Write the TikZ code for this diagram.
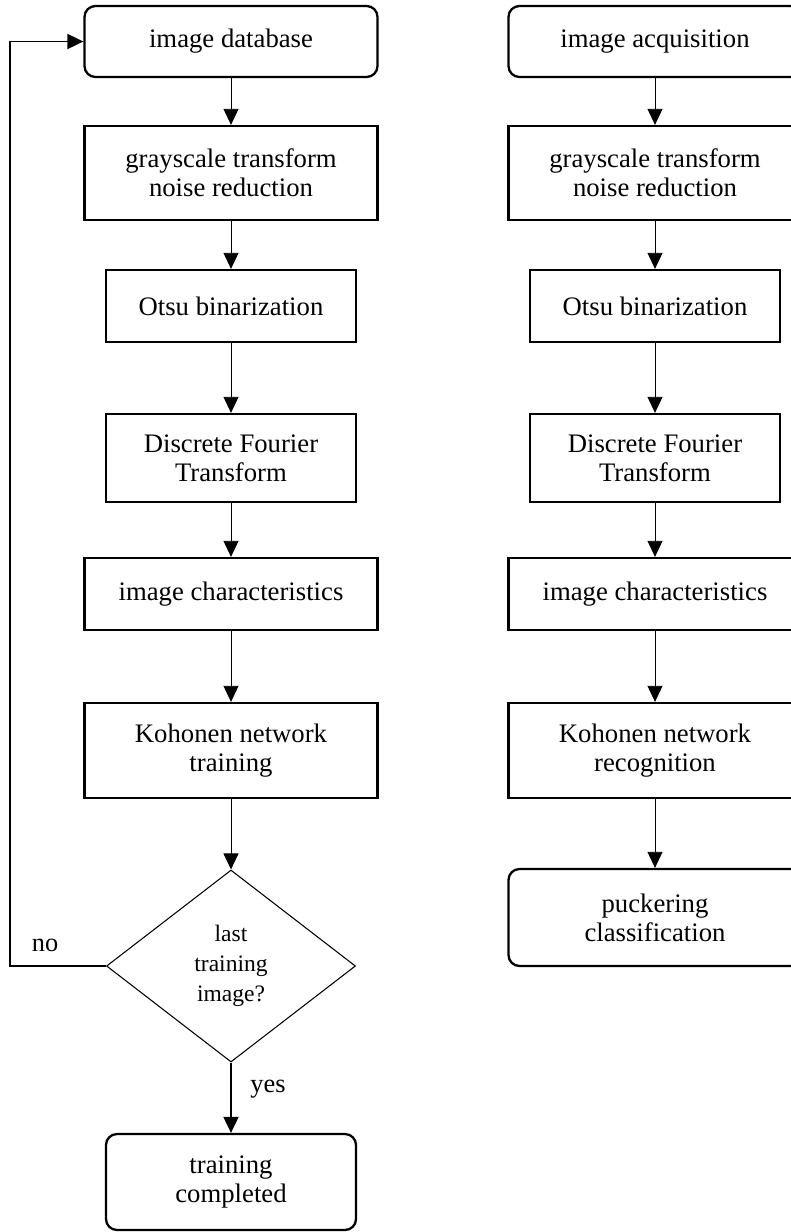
\documentclass[tikz,border=0pt]{standalone}
\usepackage{fontspec}
\setmainfont{Liberation Serif}
\usetikzlibrary{shapes.geometric, arrows.meta, positioning, calc}

\begin{document}
\begin{tikzpicture}[
  box/.style={draw, line width=1.3pt, align=center, minimum width=5.86cm, font=\fontsize{15.2}{16.5}\selectfont},
  narrowbox/.style={box, minimum width=5cm},
  roundbox/.style={box, rounded corners=0.22cm},
  decision/.style={draw, diamond, line width=0.6pt, minimum width=4.98cm, minimum height=3.84cm, inner sep=0pt, align=center, font=\fontsize{13.4}{17}\selectfont},
  flow/.style={-{Triangle[width=0.3cm,length=0.32cm]}, line width=0.5pt},
  thickflow/.style={flow, line width=1.1pt},
  answer/.style={font=\fontsize{15}{16}\selectfont}
]
\useasboundingbox (0,0) rectangle (15.82,-24.64);

% Training branch
\node[roundbox, minimum height=1.42cm] (db) at (4.62,-0.83) {image database};
\node[box, minimum height=1.88cm] (grayL) at (4.62,-3.46) {grayscale transform\\noise reduction};
\node[narrowbox, minimum height=1.44cm] (otsuL) at (4.62,-6.12) {Otsu binarization};
\node[narrowbox, minimum height=1.76cm] (dftL) at (4.62,-9.16) {Discrete Fourier\\Transform};
\node[box, minimum height=1.44cm] (charL) at (4.62,-11.88) {image characteristics};
\node[box, minimum height=1.90cm] (train) at (4.62,-15.01) {Kohonen network\\training};
\node[decision] (last) at (4.62,-19.32) {last\\training\\image?};
\node[roundbox, minimum width=5cm, minimum height=1.92cm] (done) at (4.62,-23.64) {training\\completed};

\draw[flow] (db) -- (grayL);
\draw[flow] (grayL) -- (otsuL);
\draw[flow] (otsuL) -- (dftL);
\draw[flow] (dftL) -- (charL);
\draw[flow] (charL) -- (train);
\draw[flow] (train) -- (last);
\draw[thickflow] (last) -- (done);
\node[answer] (yes) at (5.36,-21.78) {yes};

% Loop back for the next image
\coordinate (loopx) at (0.2,0);
\draw[thickflow] (last.west) -- (last.west -| loopx) |- (db.west);
\node[answer] (no) at (0.9,-18.9) {no};

% Recognition branch
\node[roundbox, minimum height=1.42cm] (acq) at (13.1,-0.83) {image acquisition};
\node[box, minimum height=1.88cm] (grayR) at (13.1,-3.46) {grayscale transform\\noise reduction};
\node[narrowbox, minimum height=1.44cm] (otsuR) at (13.1,-6.12) {Otsu binarization};
\node[narrowbox, minimum height=1.76cm] (dftR) at (13.1,-9.16) {Discrete Fourier\\Transform};
\node[box, minimum height=1.44cm] (charR) at (13.1,-11.88) {image characteristics};
\node[box, minimum height=1.90cm] (recog) at (13.1,-15.01) {Kohonen network\\recognition};
\node[roundbox, minimum height=1.94cm] (pucker) at (13.1,-18.35) {puckering\\classification};

\draw[flow] (acq) -- (grayR);
\draw[flow] (grayR) -- (otsuR);
\draw[flow] (otsuR) -- (dftR);
\draw[flow] (dftR) -- (charR);
\draw[flow] (charR) -- (recog);
\draw[flow] (recog) -- (pucker);
\end{tikzpicture}
\end{document}
